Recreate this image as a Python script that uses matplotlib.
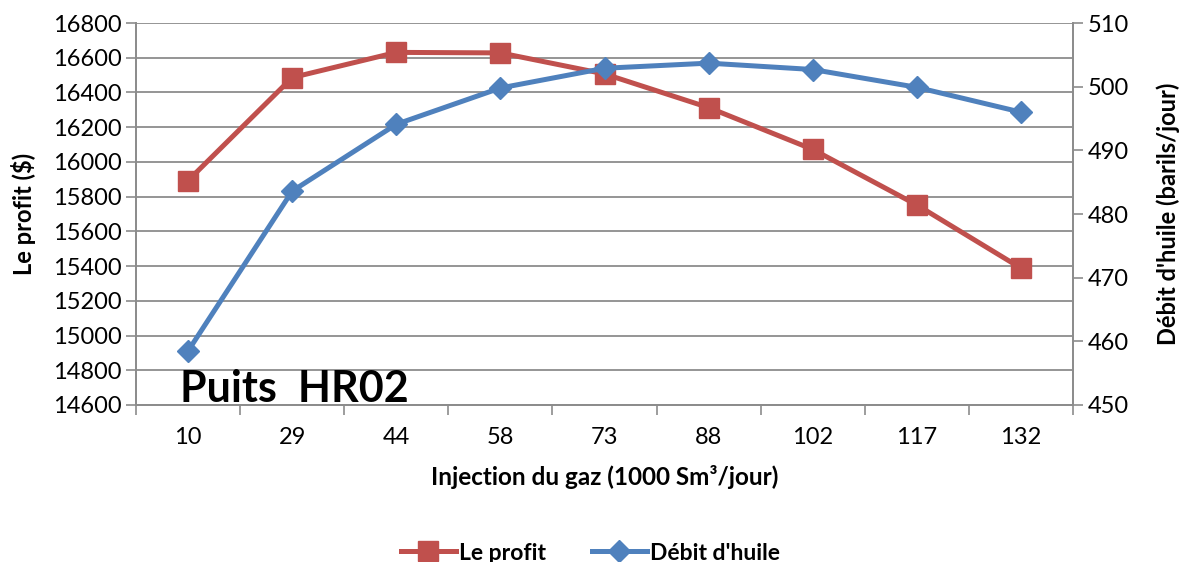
import numpy as np
import matplotlib
matplotlib.use("Agg")
import matplotlib.pyplot as plt

plt.rcParams['font.family'] = ['Lato', 'DejaVu Sans']

# données
injection = ["10", "29", "44", "58", "73", "88", "102", "117", "132"]
profit = [15893, 16486, 16631, 16628, 16507, 16313, 16072, 15752, 15388]
debit_huile = [458.5, 483.6, 494.1, 499.8, 502.9, 503.7, 502.7, 499.9, 496.0]

rouge = "#C0504D"
bleu = "#4F81BD"
gris = "#8C8C8C"

x = np.arange(len(injection))

fig = plt.figure(figsize=(11.81, 5.62), dpi=100)
ax = fig.add_axes([0.1152, 0.2794, 0.7934, 0.6796])
ax2 = ax.twinx()

l1, = ax.plot(x, profit, color=rouge, lw=3.6, marker="s", markersize=14,
              label="Le profit", zorder=3)
l2, = ax2.plot(x, debit_huile, color=bleu, lw=3.6, marker="D", markersize=11,
               label="Débit d'huile", zorder=3)

ax.set_xlim(-0.5, len(x) - 0.5)
ax.set_ylim(14600, 16800)
ax.set_yticks(np.arange(14600, 16801, 200))
ax2.set_ylim(450, 510)
ax2.set_yticks(np.arange(450, 511, 10))

ax.set_xticks(x)
ax.set_xticklabels(injection)
ax.set_xticks(np.arange(-0.5, len(x), 1), minor=True)
ax.tick_params(axis="x", which="major", length=0, labelsize=17, pad=16)
ax.tick_params(axis="x", which="minor", length=7, color=gris, width=1.2)
ax.tick_params(axis="y", labelsize=17, length=7, color=gris, width=1.2)
ax2.tick_params(axis="y", labelsize=17, length=7, color=gris, width=1.2)

ax.grid(axis="y", color=gris, lw=1.3)
ax.set_axisbelow(True)
for a in (ax, ax2):
    a.spines["top"].set_visible(False)
    for s in ("left", "right", "bottom"):
        a.spines[s].set_color(gris)
        a.spines[s].set_linewidth(1.3)

ax.set_xlabel("Injection du gaz (1000 Sm³/jour)", fontsize=17.5, fontweight="bold", labelpad=12)
ax.set_ylabel("Le profit ($)", fontsize=17, fontweight="bold", labelpad=12)
ax2.set_ylabel("Débit d'huile (barils/jour)", fontsize=17, fontweight="bold", labelpad=20)

ax.text(-0.08, 14615, "Puits  HR02", fontsize=31, fontweight="bold", ha="left", va="baseline")

fig.legend(handles=[l1, l2], loc="center", bbox_to_anchor=(0.5, 0.016), ncol=2,
           frameon=False, prop={"size": 16.5, "weight": "bold"}, handlelength=2.4,
           columnspacing=2.0, handletextpad=0.15)

fig.savefig("out.png", dpi=100)
